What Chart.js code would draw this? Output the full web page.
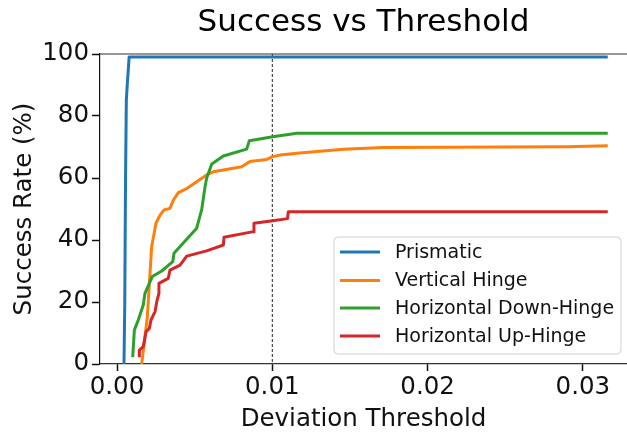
<!DOCTYPE html>
<html>
<head>
<meta charset="utf-8">
<script src="https://cdn.jsdelivr.net/npm/chart.js@4"></script>
<style>
  html, body { margin: 0; padding: 0; background: #fff; }
  #wrap { width: 627px; height: 433px; }
</style>
</head>
<body>
<div id="wrap"><canvas id="chart" width="627" height="433"></canvas></div>
<script>
const seriesNames = ["Prismatic", "Vertical Hinge", "Horizontal Down-Hinge", "Horizontal Up-Hinge"];
const seriesColors = ["#1f77b4", "#ff7f0e", "#2ca02c", "#d62728"];

const prismaticX = [0.00045, 0.00050, 0.00055, 0.00060, 0.00066, 0.00078, 0.0316];
const prismaticY = [0, 20, 60, 85, 90, 99, 99];

const verticalX = [0.00159, 0.00195, 0.00223, 0.00251, 0.00277, 0.00303, 0.00341, 0.00363, 0.00395, 0.00449, 0.00513, 0.00577, 0.0062, 0.00803, 0.00856, 0.00964, 0.01003, 0.0105, 0.01157, 0.01458, 0.01715, 0.02896, 0.0316];
const verticalY = [0, 15, 37.8, 45.4, 48, 49.7, 50.2, 52.9, 55.3, 56.6, 58.8, 61, 62, 63.6, 65.3, 66, 66.9, 67.4, 68, 69.3, 69.8, 70.1, 70.4];

const downX = [0.00101, 0.00112, 0.00137, 0.00169, 0.0018, 0.00227, 0.00288, 0.00359, 0.00367, 0.00513, 0.00545, 0.00567, 0.00577, 0.0061, 0.00685, 0.00835, 0.00852, 0.01003, 0.01114, 0.01157, 0.0316];
const downY = [2.2, 11, 14.2, 19, 22.8, 28.2, 30, 33, 35.7, 43.8, 49.7, 57.2, 59.9, 64.5, 67.1, 69.3, 72, 73.3, 74.1, 74.4, 74.4];

const upX = [0.00144, 0.00144, 0.00169, 0.00187, 0.00208, 0.00219, 0.00245, 0.00256, 0.0027, 0.0027, 0.0033, 0.00341, 0.00406, 0.00449, 0.00577, 0.00685, 0.00689, 0.00878, 0.00882, 0.01003, 0.01098, 0.01103, 0.0316];
const upY = [2.2, 4.5, 5.6, 10.4, 11.5, 14.2, 16.9, 20.1, 22.8, 26, 27.6, 30.3, 31.9, 34.8, 36.5, 38.4, 40.9, 42.7, 45.4, 46.2, 46.9, 49.1, 49.1];

const xTicks = [0, 0.01, 0.02, 0.03];
const yTicks = [0, 20, 40, 60, 80, 100];
const markerX = 0.01;

const seriesX = [prismaticX, verticalX, downX, upX];
const seriesY = [prismaticY, verticalY, downY, upY];

const FONT = "'DejaVu Sans', sans-serif";

const datasets = seriesNames.map((name, i) => ({
    label: name,
    data: seriesX[i].map((x, j) => ({ x: x, y: seriesY[i][j] })),
    borderColor: seriesColors[i],
    backgroundColor: seriesColors[i],
    borderWidth: 3,
    pointRadius: 0,
    showLine: true,
    tension: 0,
    borderJoinStyle: "round",
    order: seriesNames.length - i
}));

const extras = {
    id: "extras",
    beforeDatasetsDraw(chart) {
        const ctx = chart.ctx;
        const area = chart.chartArea;
        const px = chart.scales.x.getPixelForValue(markerX);
        ctx.save();
        ctx.strokeStyle = "#222";
        ctx.lineWidth = 1;
        ctx.setLineDash([3, 2]);
        ctx.beginPath();
        ctx.moveTo(px, area.top);
        ctx.lineTo(px, area.bottom);
        ctx.stroke();
        ctx.restore();
    },
    afterDraw(chart) {
        const ctx = chart.ctx;
        const area = chart.chartArea;
        ctx.save();
        // top spine
        ctx.strokeStyle = "#333";
        ctx.lineWidth = 1.2;
        ctx.beginPath();
        ctx.moveTo(area.left, area.top);
        ctx.lineTo(area.right, area.top);
        ctx.stroke();

        // title
        ctx.fillStyle = "#000";
        ctx.font = "31px " + FONT;
        ctx.textAlign = "center";
        ctx.textBaseline = "middle";
        ctx.fillText("Success vs Threshold", (area.left + area.right) / 2, 23);

        // legend
        const bx = 334, by = 237, bw = 287, bh = 117;
        ctx.beginPath();
        ctx.roundRect(bx, by, bw, bh, 4);
        ctx.fillStyle = "rgba(255,255,255,0.8)";
        ctx.fill();
        ctx.strokeStyle = "#d0d0d0";
        ctx.lineWidth = 1;
        ctx.stroke();
        const rows = [252, 280.5, 308, 336];
        ctx.font = "19px " + FONT;
        ctx.textAlign = "left";
        chart.data.datasets.forEach((ds, i) => {
            ctx.strokeStyle = ds.borderColor;
            ctx.lineWidth = 3;
            ctx.beginPath();
            ctx.moveTo(340, rows[i]);
            ctx.lineTo(380, rows[i]);
            ctx.stroke();
            ctx.fillStyle = "#111";
            ctx.fillText(ds.label, 395, rows[i] + 1);
        });
        ctx.restore();
    }
};

new Chart(document.getElementById("chart"), {
    type: "scatter",
    data: { datasets: datasets },
    options: {
        responsive: false,
        animation: false,
        layout: { padding: { top: 54, right: 0, left: 0, bottom: 0 } },
        plugins: {
            legend: { display: false },
            title: { display: false },
            tooltip: { enabled: false }
        },
        scales: {
            x: {
                type: "linear",
                min: -0.001095,
                max: 0.03284,
                afterBuildTicks: axis => { axis.ticks = xTicks.map(v => ({ value: v })); },
                afterFit: axis => { axis.height = 69; },
                border: { color: "#333", width: 1.2 },
                grid: { drawOnChartArea: false, drawTicks: true, tickLength: 7, tickWidth: 1.5, tickColor: "#111" },
                ticks: {
                    padding: 2,
                    color: "#111",
                    font: { family: FONT, size: 24.5 },
                    maxRotation: 0,
                    callback: v => v.toFixed(2)
                },
                title: {
                    display: true,
                    text: "Deviation Threshold",
                    color: "#111",
                    font: { family: FONT, size: 24.5, lineHeight: 1 },
                    padding: { top: 0, bottom: 1 }
                }
            },
            y: {
                min: 0,
                max: 100,
                afterBuildTicks: axis => { axis.ticks = yTicks.map(v => ({ value: v })); },
                afterFit: axis => { axis.width = 100; },
                border: { color: "#111", width: 1.2 },
                grid: { drawOnChartArea: false, drawTicks: true, tickLength: 8, tickWidth: 1.5, tickColor: "#111" },
                ticks: {
                    padding: 3,
                    color: "#111",
                    font: { family: FONT, size: 24.5 }
                },
                title: {
                    display: true,
                    text: "Success Rate (%)",
                    color: "#111",
                    font: { family: FONT, size: 24.5, lineHeight: 1 },
                    padding: { top: 12, bottom: 0 }
                }
            }
        }
    },
    plugins: [extras]
});
</script>
</body>
</html>
